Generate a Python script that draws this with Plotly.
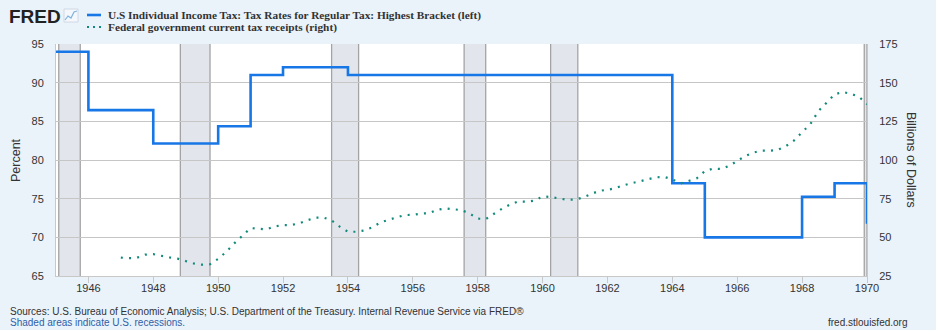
import plotly.graph_objects as go
import pandas as pd

# ---------------- data ----------------
tax_years = [1945, 1946, 1947, 1948, 1949, 1950, 1951, 1952, 1953, 1954, 1955, 1956, 1957,
             1958, 1959, 1960, 1961, 1962, 1963, 1964, 1965, 1966, 1967, 1968, 1969, 1970]
tax_rate = [94.0, 86.45, 86.45, 82.13, 82.13, 84.36, 91.0, 92.0, 92.0, 91.0, 91.0, 91.0, 91.0,
            91.0, 91.0, 91.0, 91.0, 91.0, 91.0, 77.0, 70.0, 70.0, 70.0, 75.25, 77.0, 71.75]

receipts_start = "1947-01-01"
receipts = [36.9, 36.5, 36.8, 38.8, 39.1, 37.8, 37.0, 36.2,
            34.5, 33.1, 32.3, 32.6, 36.1, 40.6, 46.1, 51.1,
            56.0, 55.5, 55.2, 57.1, 57.9, 58.0, 59.0, 61.0,
            62.7, 62.8, 61.0, 56.9, 53.6, 53.6, 54.4, 56.5,
            59.6, 61.3, 62.8, 64.4, 64.5, 65.4, 65.5, 67.8,
            68.7, 68.0, 67.6, 65.4, 62.1, 61.8, 65.3, 68.5,
            71.2, 73.2, 73.0, 73.7, 76.4, 76.1, 75.2, 74.3,
            74.4, 75.8, 78.0, 80.1, 80.7, 81.8, 83.7, 85.0,
            86.1, 87.7, 88.8, 89.1, 87.5, 84.8, 86.3, 88.1,
            92.8, 94.4, 94.2, 96.2, 99.4, 102.6, 104.8, 106.0,
            106.0, 106.5, 108.9, 112.5, 118.0, 123.0, 131.5, 137.0,
            142.4, 144.0, 142.8, 141.0, 136.0]

recession_starts = ["1945-02-01", "1948-11-01", "1953-07-01", "1957-08-01", "1960-04-01", "1969-12-01"]
recession_ends = ["1945-10-01", "1949-10-01", "1954-05-01", "1958-04-01", "1961-02-01", "1970-11-01"]

x_range = ["1945-01-01", "1970-01-01"]
left_range = [65, 95]
right_range = [25, 175]

legend_labels = ["U.S Individual Income Tax: Tax Rates for Regular Tax: Highest Bracket (left)",
                 "Federal government current tax receipts (right)"]

# ---------------- layout constants ----------------
W, H = 936, 330
ML, MR, MT, MB = 56, 69, 44, 54
PW, PH = W - ML - MR, H - MT - MB

def px(x):
    return (x - ML) / PW

def py(y):
    return 1 - (y - MT) / PH

BLUE = "#1877e6"
TEAL = "#118a7b"
TXT = "#333333"
BG = "#eaf2fa"

tax_dates = pd.to_datetime([f"{y}-01-01" for y in tax_years])
rec_dates = pd.date_range(receipts_start, periods=len(receipts), freq="QS")

fig = go.Figure()
fig.add_trace(go.Scatter(x=tax_dates, y=tax_rate, mode="lines", line=dict(color=BLUE, width=2.6, shape="hv"),
                         yaxis="y", showlegend=False, name=legend_labels[0]))
fig.add_trace(go.Scatter(x=rec_dates, y=receipts, mode="lines",
                         line=dict(color=TEAL, width=2.2, dash="2px,6.2px"),
                         yaxis="y2", showlegend=False, name=legend_labels[1]))

shapes = []
xmax = pd.Timestamp(x_range[1])
for s, e in zip(recession_starts, recession_ends):
    e2 = min(pd.Timestamp(e), xmax)
    shapes.append(dict(type="rect", xref="x", yref="paper", x0=s, x1=e2, y0=0, y1=1,
                       fillcolor="rgba(190,200,212,0.45)", line=dict(width=0), layer="below"))
    for xe in (pd.Timestamp(s), e2):
        shapes.append(dict(type="line", xref="x", yref="paper", x0=xe, x1=xe, y0=0, y1=1,
                           line=dict(color="#a3a3a3", width=1.3), layer="below"))

# legend samples
shapes.append(dict(type="line", xref="paper", yref="paper", x0=px(87), x1=px(101), y0=py(15), y1=py(15),
                   line=dict(color=BLUE, width=2.6)))
for dx in (88, 94, 100):
    shapes.append(dict(type="rect", xref="paper", yref="paper", x0=px(dx - 1), x1=px(dx + 1),
                       y0=py(28), y1=py(26), fillcolor=TEAL, line=dict(width=0)))
# FRED icon
shapes.append(dict(type="rect", xref="paper", yref="paper", x0=px(64), x1=px(78), y0=py(22), y1=py(9),
                   fillcolor="#f4f7fb", line=dict(color="#c9d3de", width=0.8)))
shapes.append(dict(type="path", xref="paper", yref="paper",
                   path=f"M {px(65)} {py(20)} L {px(68)} {py(16)} L {px(71)} {py(18)} L {px(74)} {py(12)} L {px(77)} {py(11)}",
                   line=dict(color="#7fb3e0", width=1.2)))

annotations = [
    dict(text="<b>FRED</b>", x=px(7), y=py(16), xref="paper", yref="paper", xanchor="left", yanchor="middle",
         showarrow=False, font=dict(family="Liberation Sans", size=19, color="#222222")),
    dict(text=f"<b>{legend_labels[0]}</b>", x=px(106), y=py(15), xref="paper", yref="paper", xanchor="left",
         yanchor="middle", showarrow=False, font=dict(family="Liberation Serif", size=11.3, color=TXT)),
    dict(text=f"<b>{legend_labels[1]}</b>", x=px(106), y=py(27), xref="paper", yref="paper", xanchor="left",
         yanchor="middle", showarrow=False, font=dict(family="Liberation Serif", size=11.3, color=TXT)),
    dict(text="Percent", x=px(16), y=py(160), xref="paper", yref="paper", textangle=-90, showarrow=False,
         xanchor="center", yanchor="middle", font=dict(family="Liberation Sans", size=12.5, color=TXT)),
    dict(text="Billions of Dollars", x=px(911), y=py(160), xref="paper", yref="paper", textangle=90,
         showarrow=False, xanchor="center", yanchor="middle", font=dict(family="Liberation Sans", size=12.5, color=TXT)),
    dict(text="Sources: U.S. Bureau of Economic Analysis; U.S. Department of the Treasury. Internal Revenue Service via FRED®",
         x=px(8), y=py(311), xref="paper", yref="paper", xanchor="left", yanchor="middle", showarrow=False,
         font=dict(family="Liberation Sans", size=10, color=TXT)),
    dict(text="Shaded areas indicate U.S. recessions.", x=px(8), y=py(322), xref="paper", yref="paper",
         xanchor="left", yanchor="middle", showarrow=False, font=dict(family="Liberation Sans", size=10, color="#2f5fa8")),
    dict(text="fred.stlouisfed.org", x=px(910), y=py(322), xref="paper", yref="paper", xanchor="right",
         yanchor="middle", showarrow=False, font=dict(family="Liberation Sans", size=10, color=TXT)),
]

fig.update_layout(
    width=W, height=H, margin=dict(l=ML, r=MR, t=MT, b=MB),
    paper_bgcolor=BG, plot_bgcolor="#ffffff",
    font=dict(family="Liberation Sans", size=11, color=TXT),
    showlegend=False,
    xaxis=dict(type="date", range=x_range, tick0="1946-01-01", dtick="M24", tickformat="%Y",
               showgrid=False, ticks="outside", ticklen=6, tickcolor="#c8c8c8",
               showline=True, linecolor="#c8c8c8", linewidth=1, zeroline=False, ticklabelstandoff=-4,
               tickfont=dict(size=11, color=TXT)),
    yaxis=dict(range=left_range, dtick=5, showgrid=True, gridcolor="#c6c6c6", gridwidth=1,
               zeroline=False, showline=True, linecolor="#c8c8c8", ticks="", ticklabelstandoff=9,
               tickfont=dict(size=11, color=TXT)),
    yaxis2=dict(range=right_range, dtick=25, overlaying="y", side="right", showgrid=False,
                zeroline=False, showline=True, linecolor="#c8c8c8", ticks="", ticklabelstandoff=9,
                tickfont=dict(size=11, color=TXT)),
    shapes=shapes, annotations=annotations,
)

fig.write_html("out.html")
